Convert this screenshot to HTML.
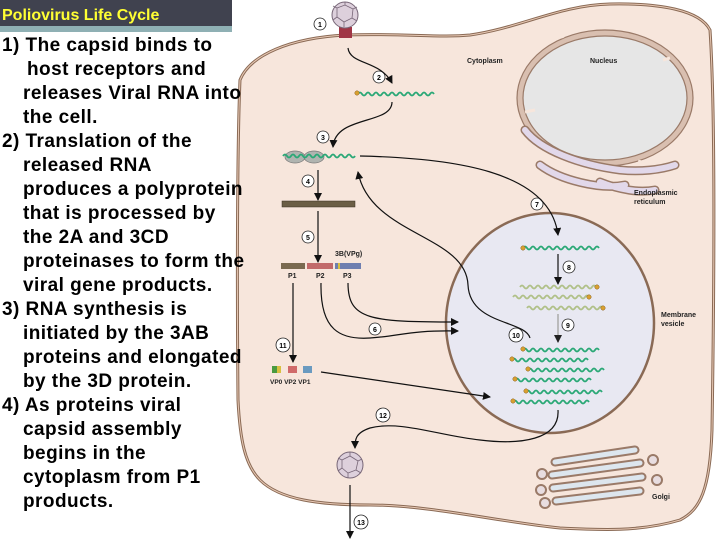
<!DOCTYPE html>
<html><head><meta charset="utf-8"><style>
html,body{margin:0;padding:0;background:#fff;}
#w{position:relative;width:720px;height:540px;overflow:hidden;}
svg{position:absolute;left:0;top:0;}
.t{position:absolute;font-family:"Liberation Sans",sans-serif;font-weight:bold;font-size:19px;letter-spacing:0.45px;color:#000;line-height:24px;white-space:nowrap;}
</style></head><body><div id="w">
<svg width="720" height="540" viewBox="0 0 720 540">
<defs><marker id="a" markerWidth="8" markerHeight="8" refX="7" refY="4" orient="auto" markerUnits="userSpaceOnUse"><path d="M0,0 L8,4 L0,8 z" fill="#111"/></marker>
<marker id="ag" markerWidth="8" markerHeight="8" refX="7" refY="4" orient="auto" markerUnits="userSpaceOnUse"><path d="M0,0 L8,4 L0,8 z" fill="#222"/></marker></defs>
<path d="M240,80 C250,55 290,38 345,35 C400,33 440,38 470,35 C520,28 560,5 610,4 C660,3 700,10 710,30 C716,120 714,300 712,430 C710,490 700,510 680,520 C640,532 600,530 560,528 C500,522 430,505 370,505 C320,505 280,500 260,480 C245,465 240,440 238,400 C237,300 237,150 240,80 Z" fill="#f7e6dc" stroke="#8a6a55" stroke-width="3"/>
<path d="M240,80 C250,55 290,38 345,35 C400,33 440,38 470,35 C520,28 560,5 610,4 C660,3 700,10 710,30 C716,120 714,300 712,430 C710,490 700,510 680,520 C640,532 600,530 560,528 C500,522 430,505 370,505 C320,505 280,500 260,480 C245,465 240,440 238,400 C237,300 237,150 240,80 Z" fill="none" stroke="#e8c9b5" stroke-width="1"/>
<ellipse cx="605" cy="98" rx="88" ry="68" fill="#d9bfb0" stroke="#9a7a68" stroke-width="1.2"/>
<ellipse cx="605" cy="98" rx="82" ry="62" fill="#e6e6e6" stroke="#9a7a68" stroke-width="1.2"/>
<g stroke="#f7e6dc" stroke-width="3"><line x1="560" y1="30" x2="563" y2="38"/><line x1="670" y1="58" x2="663" y2="60"/><line x1="525" y1="112" x2="535" y2="110"/><line x1="640" y1="160" x2="638" y2="168"/></g>
<path d="M525,130 C540,150 580,165 620,170 C640,172 660,170 675,165" fill="none" stroke="#9a7a68" stroke-width="9" stroke-linecap="round"/>
<path d="M525,130 C540,150 580,165 620,170 C640,172 660,170 675,165" fill="none" stroke="#e2d8ea" stroke-width="6" stroke-linecap="round"/>
<path d="M540,165 C560,180 600,190 625,185 M600,182 C620,190 640,193 655,190" fill="none" stroke="#9a7a68" stroke-width="9" stroke-linecap="round"/>
<path d="M540,165 C560,180 600,190 625,185 M600,182 C620,190 640,193 655,190" fill="none" stroke="#e2d8ea" stroke-width="6" stroke-linecap="round"/>
<ellipse cx="550" cy="323" rx="104" ry="110" fill="#e8e8f2" stroke="#8a6a55" stroke-width="2.5"/>
<g fill="none" stroke-linecap="round">
<g stroke="#9a7a68" stroke-width="9"><path d="M555,462 L635,450"/><path d="M552,475 L640,463"/><path d="M553,488 L642,477"/><path d="M556,501 L640,491"/></g>
<g stroke="#dde6ee" stroke-width="5"><path d="M555,462 L635,450"/><path d="M552,475 L640,463"/><path d="M553,488 L642,477"/><path d="M556,501 L640,491"/></g>
</g>
<g fill="#e8dde0" stroke="#9a7a68" stroke-width="2"><circle cx="542" cy="474" r="5"/><circle cx="541" cy="490" r="5"/><circle cx="545" cy="503" r="5"/><circle cx="653" cy="460" r="5"/><circle cx="657" cy="480" r="5"/></g>
<g font-family="Liberation Sans,sans-serif" font-size="7" font-weight="bold" fill="#222">
<text x="467" y="63">Cytoplasm</text><text x="590" y="63">Nucleus</text>
<text x="634" y="195">Endoplasmic</text><text x="634" y="204">reticulum</text>
<text x="661" y="317">Membrane</text><text x="661" y="326">vesicle</text>
<text x="652" y="499">Golgi</text>
<text x="335" y="256">3B(VPg)</text>
<text x="288" y="278">P1</text><text x="316" y="278">P2</text><text x="343" y="278">P3</text>
<text x="270" y="384" font-size="6.5">VP0 VP2 VP1</text>
</g>
<g font-family="Liberation Sans,sans-serif" font-size="7" font-weight="bold" text-anchor="middle">
<g fill="#fff" stroke="#222" stroke-width="0.8">
<circle cx="320" cy="24" r="6"/><circle cx="379" cy="77" r="6"/><circle cx="323" cy="137" r="6"/><circle cx="308" cy="181" r="6"/><circle cx="308" cy="237" r="6"/><circle cx="375" cy="329" r="6"/><circle cx="537" cy="204" r="6"/><circle cx="569" cy="267" r="6"/><circle cx="568" cy="325" r="6"/><circle cx="516" cy="335" r="7"/><circle cx="283" cy="345" r="7"/><circle cx="383" cy="415" r="7"/><circle cx="361" cy="522" r="7"/></g>
<text x="320" y="27">1</text><text x="379" y="80">2</text><text x="323" y="140">3</text><text x="308" y="184">4</text><text x="308" y="240">5</text><text x="375" y="332">6</text><text x="537" y="207">7</text><text x="569" y="270">8</text><text x="568" y="328">9</text><text x="516" y="338">10</text><text x="283" y="348">11</text><text x="383" y="418">12</text><text x="361" y="525">13</text>
</g>
<rect x="339" y="27" width="13" height="11" fill="#a03545"/>
<circle cx="345" cy="15" r="13" fill="#ddd0dc" stroke="#776677" stroke-width="1"/>
<path d="M337,8 L345,5 L353,9 L352,18 L344,22 L337,17 Z M345,5 L345,2 M353,9 L357,7 M352,18 L357,21 M344,22 L344,27 M337,17 L333,20 M337,8 L333,6" fill="none" stroke="#776677" stroke-width="0.8"/>
<circle cx="350" cy="465" r="13" fill="#ddd0dc" stroke="#776677" stroke-width="1"/>
<path d="M342,460 L350,456 L358,461 L356,470 L348,473 L342,468 Z M350,456 L350,452 M358,461 L362,459 M356,470 L361,473 M348,473 L348,478 M342,468 L338,471 M342,460 L338,458" fill="none" stroke="#776677" stroke-width="0.8"/>
<g fill="none" stroke="#111" stroke-width="1.2">
<path d="M348,48 C350,65 380,60 392,83" marker-end="url(#a)"/>
<path d="M392,102 C392,125 335,115 333,147" marker-end="url(#a)"/>
<path d="M318,170 L318,200" marker-end="url(#a)"/>
<path d="M318,211 L318,262" marker-end="url(#a)"/>
<path d="M360,156 C450,158 550,170 558,235" marker-end="url(#a)"/>
<path d="M530,338 C525,320 470,325 468,285 C466,235 370,235 358,172" marker-end="url(#a)"/>
<path d="M293,283 L293,362" marker-end="url(#a)"/>
<path d="M321,283 C320,330 340,340 370,338 C400,336 410,330 458,331" marker-end="url(#a)"/>
<path d="M348,283 C348,320 370,322 458,322" marker-end="url(#a)"/>
<path d="M321,372 L490,397" marker-end="url(#a)"/>
<path d="M558,254 L558,284" marker-end="url(#a)"/>
<path d="M558,410 C560,440 520,445 480,440 C440,436 400,420 370,428 C355,433 355,440 355,448" marker-end="url(#a)"/>
<path d="M350,485 L350,538" marker-end="url(#a)"/>
</g>
<path d="M558,314 L558,342" stroke="#aaa" stroke-width="1.5" fill="none" marker-end="url(#ag)"/>
<rect x="282" y="201" width="73" height="6" fill="#6b5e45" stroke="#3a3020" stroke-width="0.5"/>
<rect x="281" y="263" width="24" height="6" fill="#7a6a50"/><rect x="307" y="263" width="26" height="6" fill="#c26a6a"/><rect x="335" y="263" width="3" height="6" fill="#6f7fb0"/><rect x="338" y="263" width="2" height="6" fill="#d8c040"/><rect x="340" y="263" width="21" height="6" fill="#6f7fb0"/>
<rect x="272" y="366" width="9" height="7" fill="#4a9a40"/><rect x="277" y="366" width="4" height="7" fill="#d8c040"/><rect x="288" y="366" width="9" height="7" fill="#d06a6a"/><rect x="303" y="366" width="9" height="7" fill="#6a9ac0"/>
<ellipse cx="295" cy="157" rx="10" ry="6" fill="#b0b4b0" stroke="#777" stroke-width="0.7"/>
<ellipse cx="314" cy="157" rx="10" ry="6" fill="#b0b4b0" stroke="#777" stroke-width="0.7"/>
<g fill="none" stroke-width="1.8">
<g stroke="#2aa876">
<path d="M358,94 q2 -3 4 0 t4 0 t4 0 t4 0 t4 0 t4 0 t4 0 t4 0 t4 0 t4 0 t4 0 t4 0 t4 0 t4 0 t4 0 t4 0 t4 0 t4 0 t4 0"/>
<path d="M283,156 q2 -3 4 0 t4 0 t4 0 t4 0 t4 0 t4 0 t4 0 t4 0 t4 0 t4 0 t4 0 t4 0 t4 0 t4 0 t4 0 t4 0 t4 0 t4 0"/>
<path d="M523,248 q2 -3 4 0 t4 0 t4 0 t4 0 t4 0 t4 0 t4 0 t4 0 t4 0 t4 0 t4 0 t4 0 t4 0 t4 0 t4 0 t4 0 t4 0 t4 0 t4 0"/>
<path d="M523,350 q2 -3 4 0 t4 0 t4 0 t4 0 t4 0 t4 0 t4 0 t4 0 t4 0 t4 0 t4 0 t4 0 t4 0 t4 0 t4 0 t4 0 t4 0 t4 0 t4 0"/>
<path d="M512,360 q2 -3 4 0 t4 0 t4 0 t4 0 t4 0 t4 0 t4 0 t4 0 t4 0 t4 0 t4 0 t4 0 t4 0 t4 0 t4 0 t4 0 t4 0 t4 0 t4 0"/>
<path d="M528,370 q2 -3 4 0 t4 0 t4 0 t4 0 t4 0 t4 0 t4 0 t4 0 t4 0 t4 0 t4 0 t4 0 t4 0 t4 0 t4 0 t4 0 t4 0 t4 0 t4 0"/>
<path d="M515,380 q2 -3 4 0 t4 0 t4 0 t4 0 t4 0 t4 0 t4 0 t4 0 t4 0 t4 0 t4 0 t4 0 t4 0 t4 0 t4 0 t4 0 t4 0 t4 0 t4 0"/>
<path d="M526,392 q2 -3 4 0 t4 0 t4 0 t4 0 t4 0 t4 0 t4 0 t4 0 t4 0 t4 0 t4 0 t4 0 t4 0 t4 0 t4 0 t4 0 t4 0 t4 0 t4 0"/>
<path d="M513,402 q2 -3 4 0 t4 0 t4 0 t4 0 t4 0 t4 0 t4 0 t4 0 t4 0 t4 0 t4 0 t4 0 t4 0 t4 0 t4 0 t4 0 t4 0 t4 0 t4 0"/>
</g>
<g stroke="#b0c088">
<path d="M520,287 q2 -3 4 0 t4 0 t4 0 t4 0 t4 0 t4 0 t4 0 t4 0 t4 0 t4 0 t4 0 t4 0 t4 0 t4 0 t4 0 t4 0 t4 0 t4 0 t4 0"/>
<path d="M513,297 q2 -3 4 0 t4 0 t4 0 t4 0 t4 0 t4 0 t4 0 t4 0 t4 0 t4 0 t4 0 t4 0 t4 0 t4 0 t4 0 t4 0 t4 0 t4 0 t4 0"/>
<path d="M527,308 q2 -3 4 0 t4 0 t4 0 t4 0 t4 0 t4 0 t4 0 t4 0 t4 0 t4 0 t4 0 t4 0 t4 0 t4 0 t4 0 t4 0 t4 0 t4 0 t4 0"/>
</g>
</g>
<g fill="#d9a030" stroke="#8a6020" stroke-width="0.5">
<circle cx="357" cy="93" r="2.2"/><circle cx="523" cy="248" r="2.2"/>
<circle cx="597" cy="287" r="2.2"/><circle cx="589" cy="297" r="2.2"/><circle cx="603" cy="308" r="2.2"/>
<circle cx="523" cy="349" r="2.2"/><circle cx="512" cy="359" r="2.2"/><circle cx="528" cy="369" r="2.2"/><circle cx="515" cy="379" r="2.2"/><circle cx="526" cy="391" r="2.2"/><circle cx="513" cy="401" r="2.2"/>
</g>
<rect x="0" y="0" width="232" height="26" fill="#40424f"/>
<rect x="0" y="26" width="232" height="6" fill="#8fb0b4"/>
<text x="2" y="20" font-family="Liberation Sans,sans-serif" font-size="16" font-weight="bold" fill="#ffff33">Poliovirus Life Cycle</text>
</svg>
<div class="t" style="left:2px;top:34px;">1) The capsid binds to</div>
<div class="t" style="left:27px;top:58px;">host receptors and</div>
<div class="t" style="left:23px;top:82px;">releases Viral RNA into</div>
<div class="t" style="left:23px;top:106px;">the cell.</div>
<div class="t" style="left:2px;top:130px;">2) Translation of the</div>
<div class="t" style="left:23px;top:154px;">released RNA</div>
<div class="t" style="left:23px;top:178px;">produces a polyprotein</div>
<div class="t" style="left:23px;top:202px;">that is processed by</div>
<div class="t" style="left:23px;top:226px;">the 2A and 3CD</div>
<div class="t" style="left:23px;top:250px;">proteinases to form the</div>
<div class="t" style="left:23px;top:274px;">viral gene products.</div>
<div class="t" style="left:2px;top:298px;">3) RNA synthesis is</div>
<div class="t" style="left:23px;top:322px;">initiated by the 3AB</div>
<div class="t" style="left:23px;top:346px;">proteins and elongated</div>
<div class="t" style="left:23px;top:370px;">by the 3D protein.</div>
<div class="t" style="left:2px;top:394px;">4) As proteins viral</div>
<div class="t" style="left:23px;top:418px;">capsid assembly</div>
<div class="t" style="left:23px;top:442px;">begins in the</div>
<div class="t" style="left:23px;top:466px;">cytoplasm from P1</div>
<div class="t" style="left:23px;top:490px;">products.</div>
</div></body></html>
